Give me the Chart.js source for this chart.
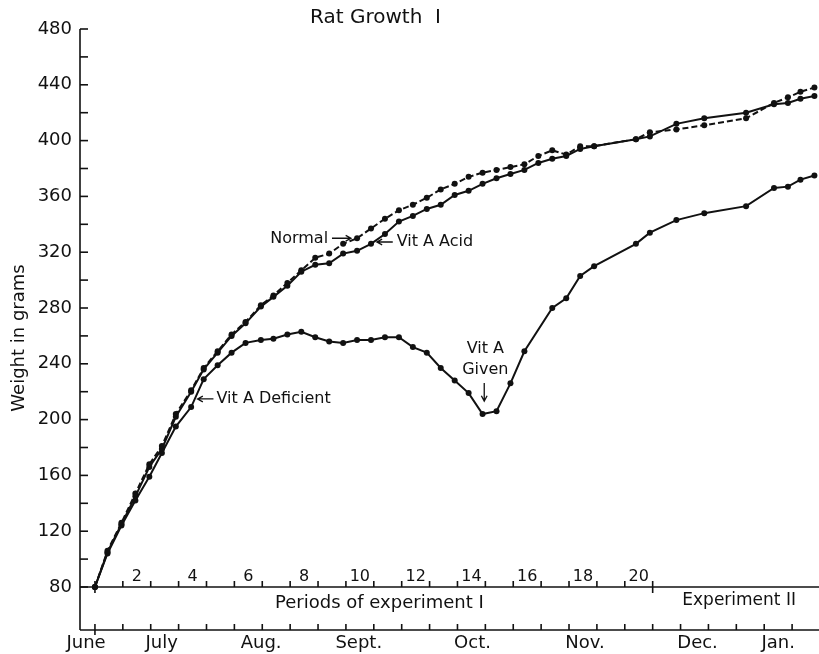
<!DOCTYPE html>
<html>
<head>
<meta charset="utf-8">
<title>Rat Growth I</title>
<script src="https://cdn.jsdelivr.net/npm/chart.js@4.4.1/dist/chart.umd.min.js"></script>
<style>
  html, body { margin: 0; padding: 0; background: #fff; }
  canvas { display: block; }
</style>
</head>
<body>
<canvas id="growth" width="819" height="654"></canvas>
<script>
'use strict';

// weighings, in periods of the experiment (two per period, sparser in experiment II)
const periods = [
  0, 0.45, 0.95, 1.45, 1.95, 2.4, 2.9, 3.45, 3.9, 4.4, 4.9, 5.4, 5.95, 6.4, 6.9,
  7.4, 7.9, 8.4, 8.9, 9.4, 9.9, 10.4, 10.9, 11.4, 11.9, 12.4, 12.9, 13.4, 13.9,
  14.4, 14.9, 15.4, 15.9, 16.4, 16.9, 17.4, 17.9, 19.4, 19.9, 20.85, 21.85,
  23.35, 24.35, 24.85, 25.3, 25.8,
];

// mean weight in grams
const normal = [
  80, 106, 126, 147, 168, 181, 204, 221, 237, 249, 261, 270, 282, 289, 298,
  307, 316, 319, 326, 330, 337, 344, 350, 354, 359, 365, 369, 374, 377,
  379, 381, 383, 389, 393, 390, 396, 396, 401, 406, 408, 411,
  416, 427, 431, 435, 438,
];
const vitAAcid = [
  80, 105, 125, 145, 166, 179, 202, 220, 236, 248, 260, 269, 281, 288, 296,
  306, 311, 312, 319, 321, 326, 333, 342, 346, 351, 354, 361, 364, 369,
  373, 376, 379, 384, 387, 389, 394, 396, 401, 403, 412, 416,
  420, 426, 427, 430, 432,
];
const vitADeficient = [
  80, 104, 124, 142, 159, 176, 195, 209, 229, 239, 248, 255, 257, 258, 261,
  263, 259, 256, 255, 257, 257, 259, 259, 252, 248, 237, 228, 219, 204,
  206, 226, 249, null, 280, 287, 303, 310, 326, 334, 343, 348,
  353, 366, 367, 372, 375,
];

const weightLabels = [80, 120, 160, 200, 240, 280, 320, 360, 400, 440, 480];
const periodLabels = [2, 4, 6, 8, 10, 12, 14, 16, 18, 20];
const months = ['June', 'July', 'Aug.', 'Sept.', 'Oct.', 'Nov.', 'Dec.', 'Jan.'];
const monthPos = [-0.32, 2.39, 5.96, 9.46, 13.54, 17.57, 21.61, 24.5];

const FONT = '"DejaVu Sans", sans-serif';
const INK = '#111';

const points = (values) => periods.map((p, i) => ({ x: p, y: values[i] }));

function arrow(ctx, x1, y1, x2, y2) {
  const a = Math.atan2(y2 - y1, x2 - x1);
  ctx.beginPath();
  ctx.moveTo(x1, y1);
  ctx.lineTo(x2, y2);
  ctx.moveTo(x2 - 6 * Math.cos(a - 0.5), y2 - 6 * Math.sin(a - 0.5));
  ctx.lineTo(x2, y2);
  ctx.lineTo(x2 - 6 * Math.cos(a + 0.5), y2 - 6 * Math.sin(a + 0.5));
  ctx.stroke();
}

function line(ctx, x1, y1, x2, y2) {
  ctx.beginPath();
  ctx.moveTo(x1, y1);
  ctx.lineTo(x2, y2);
  ctx.stroke();
}

// axis lines, the two time scales underneath and the hand lettering
const paperAxes = {
  id: 'paperAxes',
  afterDraw(chart) {
    const { ctx, chartArea, scales } = chart;
    const px = (p) => scales.x.getPixelForValue(p);
    const py = (v) => scales.y.getPixelForValue(v);
    const left = chartArea.left;
    const right = chart.width;
    const base = py(80);
    const monthLine = base + 43;

    ctx.save();
    ctx.strokeStyle = INK;
    ctx.fillStyle = INK;
    ctx.lineWidth = 1.6;

    // weight axis, running down past 80 to the month line
    line(ctx, left, py(480), left, monthLine);
    for (let v = 80; v <= 480; v += 20) line(ctx, left, py(v), left + 8, py(v));

    // periods of experiment I
    line(ctx, left, base, right, base);
    for (let k = 0; k <= 20; k++) {
      const cross = k === 0 || k === 20;
      line(ctx, px(k), base - 6, px(k), base + (cross ? 6 : 0));
    }

    // calendar months
    line(ctx, left, monthLine, right, monthLine);
    for (let k = 0; k <= 25; k++) {
      line(ctx, px(k), monthLine - 6, px(k), monthLine + (k === 0 ? 5 : 0));
    }

    ctx.textBaseline = 'middle';
    ctx.textAlign = 'center';
    ctx.font = '16px ' + FONT;
    periodLabels.forEach((n) => ctx.fillText(String(n), px(n - 0.5), base - 10));

    ctx.font = '18px ' + FONT;
    months.forEach((m, i) => ctx.fillText(m, px(monthPos[i]), monthLine + 13));
    ctx.fillText('Periods of experiment I', px(10.2), base + 16);
    ctx.font = '17px ' + FONT;
    ctx.fillText('Experiment II', px(23.1), base + 14);

    // title
    ctx.textAlign = 'left';
    ctx.font = '20px ' + FONT;
    ctx.fillText('Rat Growth  I', 310, 18);

    // y axis title
    ctx.save();
    ctx.translate(19, 338);
    ctx.rotate(-Math.PI / 2);
    ctx.textAlign = 'center';
    ctx.font = '18px ' + FONT;
    ctx.fillText('Weight in grams', 0, 0);
    ctx.restore();

    // curve labels
    ctx.font = '16px ' + FONT;
    ctx.lineWidth = 1.3;
    ctx.textAlign = 'right';
    ctx.fillText('Normal', px(8.36), py(329.5));
    arrow(ctx, px(8.5), py(330), px(9.18), py(330));

    ctx.textAlign = 'left';
    arrow(ctx, px(10.68), py(327.3), px(10.11), py(327.3));
    ctx.fillText('Vit A Acid', px(10.82), py(327.3));

    arrow(ctx, px(4.25), py(214.8), px(3.68), py(214.8));
    ctx.fillText('Vit A Deficient', px(4.36), py(214.8));

    ctx.textAlign = 'center';
    ctx.fillText('Vit A', px(14.0), py(250.6));
    ctx.fillText('Given', px(14.0), py(235.5));
    arrow(ctx, px(13.96), py(226.2), px(13.96), py(213.3));

    ctx.restore();
  },
};

const curve = (label, values, dash) => ({
  label,
  data: points(values),
  borderColor: INK,
  backgroundColor: INK,
  borderWidth: 2,
  borderDash: dash,
  pointRadius: 3,
  pointHoverRadius: 3,
  pointBorderWidth: 0,
  pointBackgroundColor: INK,
  tension: 0,
  spanGaps: true,
  clip: false,
});

const ctx = document.getElementById('growth');

new Chart(ctx, {
  type: 'line',
  data: {
    datasets: [
      curve('Normal', normal, [6, 3]),
      curve('Vit A Acid', vitAAcid, []),
      curve('Vit A Deficient', vitADeficient, []),
    ],
  },
  options: {
    responsive: false,
    animation: false,
    devicePixelRatio: 1,
    layout: { padding: { top: 29, right: 0, bottom: 67, left: 0 } },
    plugins: {
      legend: { display: false },
      tooltip: { enabled: false },
    },
    scales: {
      x: {
        type: 'linear',
        display: false,
        min: -0.536,
        max: 25.857,
      },
      y: {
        min: 80,
        max: 480,
        afterFit(scale) {
          scale.width = 80;
        },
        grid: { display: false, drawTicks: false },
        border: { display: false },
        ticks: {
          stepSize: 20,
          padding: 8,
          color: INK,
          font: { family: FONT, size: 18 },
          callback: (v) => (weightLabels.includes(v) ? v : ''),
        },
      },
    },
  },
  plugins: [paperAxes],
});
</script>
</body>
</html>
